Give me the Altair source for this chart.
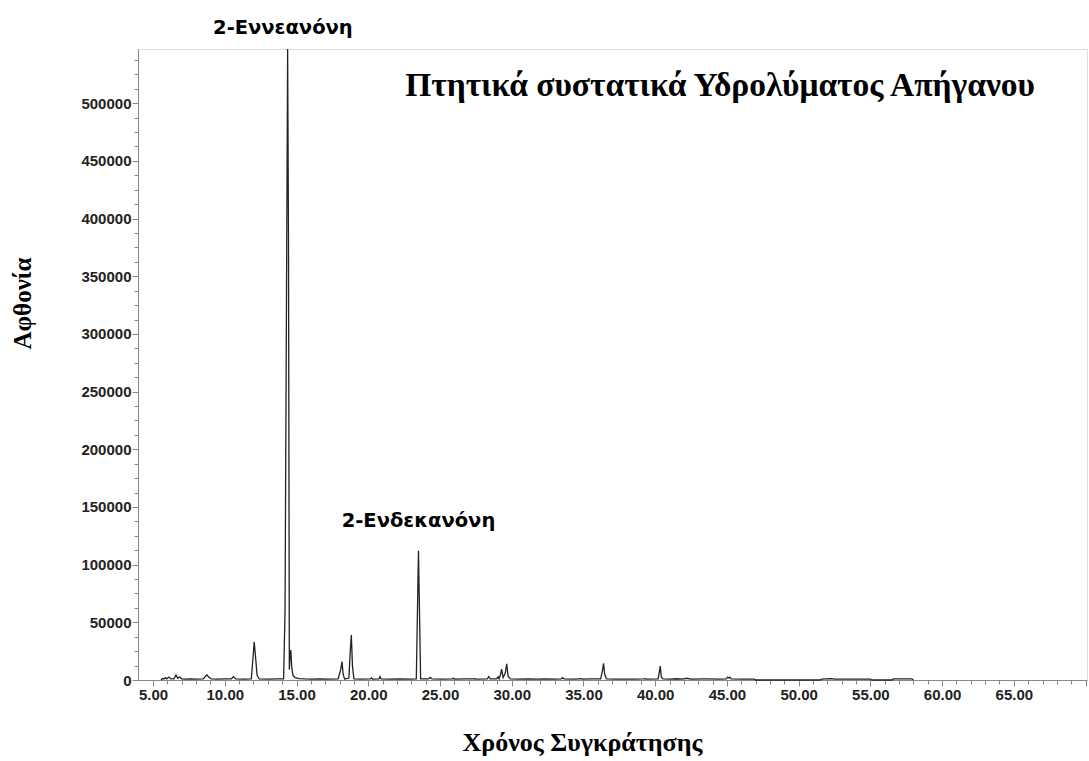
import altair as alt
import pandas as pd

# Total-ion chromatogram: retention time (min) and abundance
rt = [
    5.55, 5.65, 5.75, 5.85, 5.95, 6.1, 6.25, 6.45, 6.6, 6.72, 6.85, 7.0, 7.2, 7.6, 8.0,
    8.5, 8.75, 8.88, 9.05, 9.5, 10.0, 10.45, 10.6, 10.75, 11.3, 11.85, 11.97, 12.05, 12.13,
    12.25, 12.4, 13.0, 13.6, 14.1, 14.2, 14.3, 14.38, 14.44, 14.5, 14.55, 14.6, 14.66,
    14.75, 14.9, 15.2, 15.6, 16.0, 16.6, 17.2, 17.9, 18.08, 18.17, 18.25, 18.35, 18.65,
    18.75, 18.82, 18.9, 19.0, 19.5, 20.15, 20.22, 20.3, 20.75, 20.82, 20.9, 21.5, 22.2,
    22.9, 23.35, 23.43, 23.5, 23.57, 23.65, 24.2, 24.32, 24.45, 25.2, 25.85, 25.92, 26.0,
    26.7, 27.35, 27.42, 27.5, 28.3, 28.4, 28.5, 28.95, 29.05, 29.12, 29.22, 29.3, 29.4,
    29.55, 29.65, 29.75, 29.9, 30.5, 31.2, 31.8, 32.3, 33.0, 33.45, 33.55, 33.65, 34.2,
    34.75, 34.82, 34.9, 35.6, 36.2, 36.32, 36.4, 36.48, 36.6, 37.2, 38.5, 39.2, 39.3,
    39.4, 40.2, 40.28, 40.35, 40.43, 40.55, 41.0, 41.5, 41.9, 42.2, 42.5, 43.5, 44.5,
    44.95, 45.05, 45.12, 45.2, 45.3, 46.0, 46.9, 47.0, 51.5, 51.6, 52.3, 52.5, 55.0,
    55.1, 56.5, 56.6, 57.9, 58.0,
]
abundance = [
    0, 1200, 900, 2000, 1000, 2600, 900, 1000, 4200, 1500, 2600, 1000, 800, 900, 800,
    900, 4500, 2500, 900, 800, 900, 900, 2800, 900, 800, 900, 20000, 33000, 22000,
    4000, 900, 800, 900, 900, 60000, 330000, 547000, 380000, 9000, 22000, 26000, 12000,
    4000, 2000, 1200, 900, 800, 900, 800, 900, 9000, 16000, 5000, 900, 1500,
    26000, 39000, 12000, 900, 800, 900, 1800, 800, 900, 3000, 900, 800, 900,
    800, 900, 60000, 112000, 60000, 900, 900, 2200, 900, 800, 900, 1600, 800,
    900, 900, 1200, 800, 900, 3000, 900, 900, 2800, 900, 5000, 9500, 2000,
    6000, 14000, 3000, 900, 800, 900, 800, 900, 800, 900, 2000, 900, 800,
    900, 1400, 800, 900, 900, 8000, 14500, 5000, 900, 800, 800, 900, 1100,
    800, 900, 6000, 12000, 2500, 900, 800, 1100, 800, 1500, 800, 900, 800,
    900, 2500, 1800, 2500, 900, 800, 800, 0, 0, 800, 1200, 800, 800,
    0, 0, 900, 900, 0,
]

# Compound names placed over their peaks
peak_names = ["2-Εννεανόνη", "2-Ενδεκανόνη"]
peak_label_rt = [14.05, 23.5]
peak_label_y = [565500, 138000]

x_ticks = list(range(5, 71))
y_ticks = list(range(0, 547001, 12500))

trace = pd.DataFrame({"rt": rt, "abundance": abundance})
labels = pd.DataFrame({"name": peak_names, "rt": peak_label_rt, "y": peak_label_y})

x_scale = alt.Scale(domain=[3.95, 70.1], nice=False, zero=False)
y_scale = alt.Scale(domain=[0, 547000], nice=False)

x_axis = alt.Axis(
    values=x_ticks,
    tickCount=1000,
    labelExpr="datum.value % 5 === 0 && datum.value <= 65 ? format(datum.value, '.2f') : ''",
    tickSize={"condition": {"test": "datum.value % 5 === 0", "value": 6}, "value": 4},
    labelFont="Liberation Sans",
    labelFontSize=15,
    labelFontWeight="bold",
    labelColor="#222222",
    labelPadding=1,
    labelFlush=False,
    labelOverlap=False,
    grid=False,
    title="Χρόνος Συγκράτησης",
    titleFont="Liberation Serif",
    titleFontSize=26,
    titleFontWeight="bold",
    titleColor="#000000",
    titleAnchor="start",
    titleAlign="center",
    titleBaseline="alphabetic",
    titleX=444,
    titleY=70,
)

y_axis = alt.Axis(
    values=y_ticks,
    tickCount=1000,
    labelExpr="datum.value % 50000 === 0 ? format(datum.value, 'd') : ''",
    tickSize={"condition": {"test": "datum.value % 50000 === 0", "value": 6}, "value": 4},
    labelFont="Liberation Sans",
    labelFontSize=15,
    labelFontWeight="bold",
    labelColor="#222222",
    labelPadding=1,
    labelOverlap=False,
    grid=False,
    title="Αφθονία",
    titleFont="Liberation Serif",
    titleFontSize=25,
    titleFontWeight="bold",
    titleColor="#000000",
    titleAngle=270,
    titleAlign="center",
    titleBaseline="middle",
    titleX=-116,
    titleY=254,
)

line = alt.Chart(trace).mark_line(color="#222222", strokeWidth=1.3, interpolate="linear").encode(
    x=alt.X("rt:Q", scale=x_scale, axis=x_axis),
    y=alt.Y("abundance:Q", scale=y_scale, axis=y_axis),
)

names = alt.Chart(labels).mark_text(
    font="Comic Sans MS, DejaVu Sans",
    fontSize=19.5,
    fontWeight="bold",
    color="#000000",
    align="center",
    baseline="middle",
    clip=False,
).encode(
    x=alt.X("rt:Q", scale=x_scale),
    y=alt.Y("y:Q", scale=y_scale),
    text="name:N",
)

chart = (
    alt.layer(line, names)
    .properties(
        width=949,
        height=631,
        autosize=alt.AutoSizeParams(type="none"),
        padding={"left": 138, "top": 49, "right": 2, "bottom": 81},
        title=alt.TitleParams(
            text="Πτητικά συστατικά Υδρολύματος Απήγανου",
            font="Liberation Serif",
            fontSize=33.5,
            fontWeight="bold",
            color="#000000",
            anchor="end",
            frame="group",
            orient="top",
            baseline="alphabetic",
            offset=-112,
            dx=-52,
        ),
    )
    .configure_view(stroke=None)
    .configure_axis(domainColor="#444444", tickColor="#444444", domainWidth=1.2, tickWidth=1)
    .configure(background="white")
)

chart.save("out.html", embed_options={"renderer": "svg", "actions": False})
